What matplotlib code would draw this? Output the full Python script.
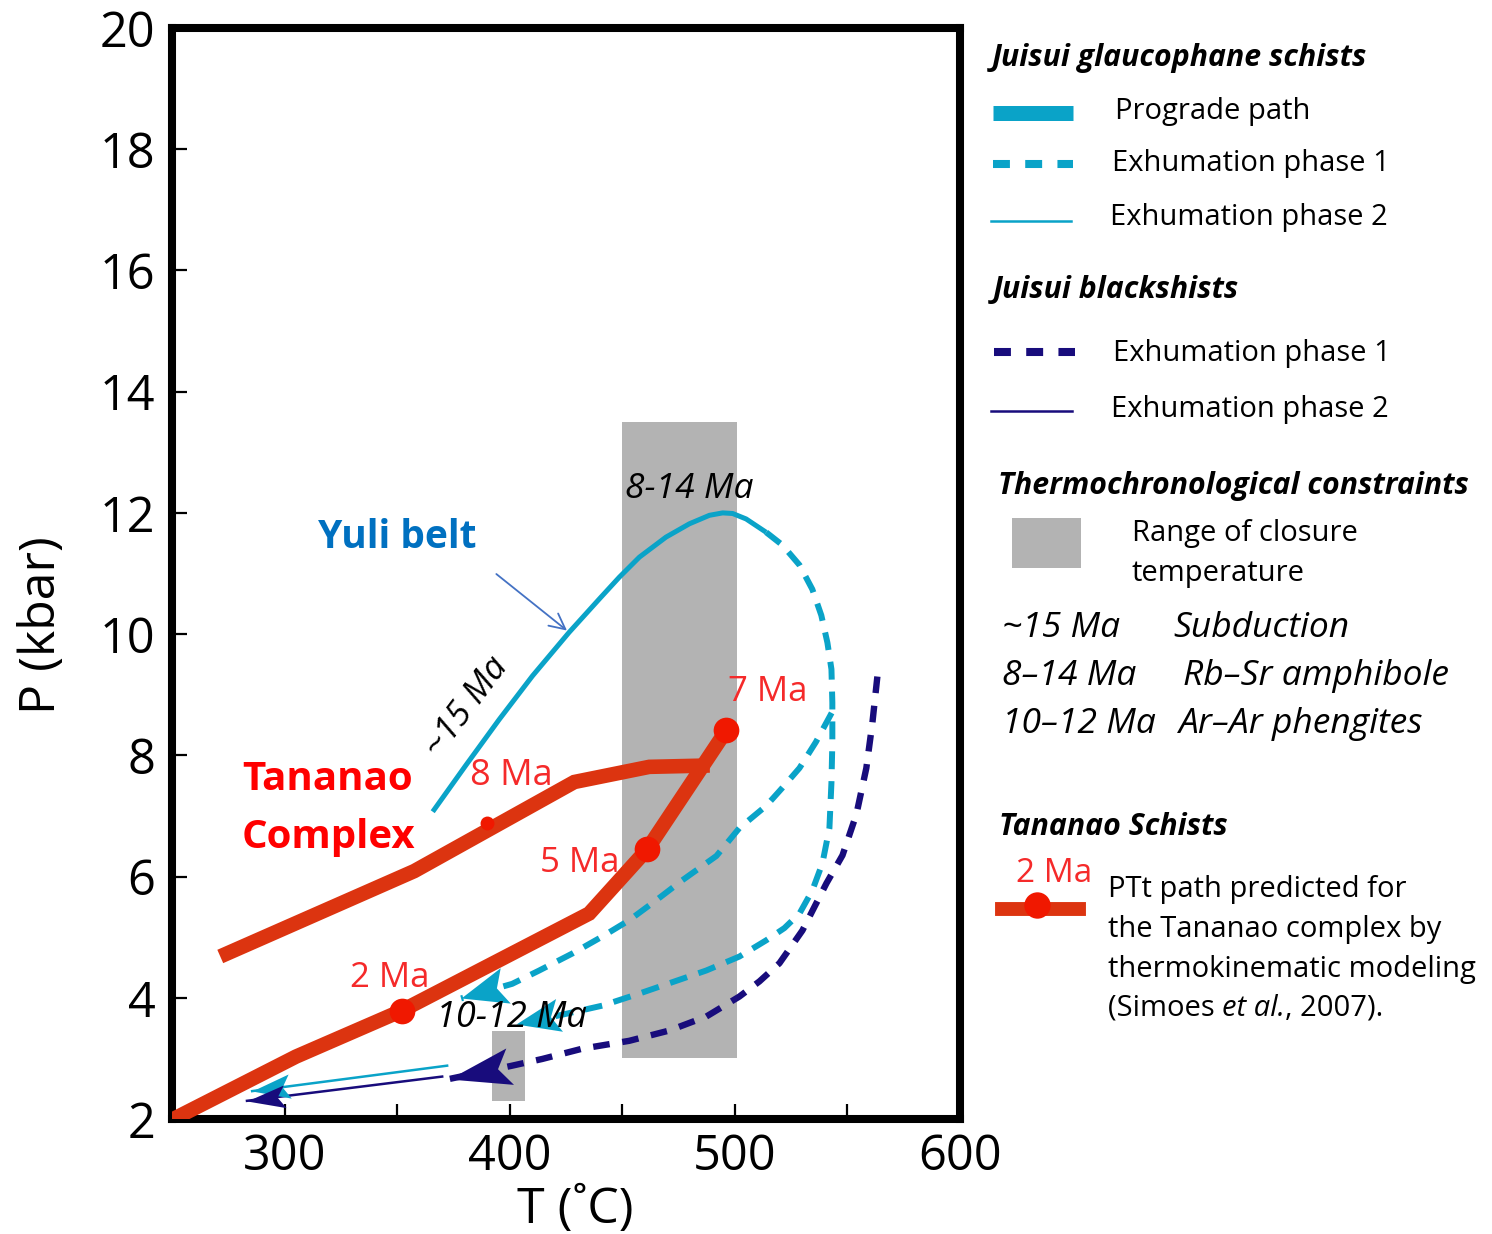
import numpy as np
import matplotlib
matplotlib.use("Agg")
import matplotlib.pyplot as plt
from matplotlib.lines import Line2D
from matplotlib.patches import Rectangle
from matplotlib.path import Path
from matplotlib.markers import MarkerStyle

plt.rcParams['font.family'] = ['Open Sans', 'DejaVu Sans']

W, H = 1492, 1234

# ---- data: T (deg C), P (kbar) ----
prograde_T = [365.8, 380.6, 395.3, 410.1, 426.4, 439.8, 448.7, 457.6, 469.4, 479.8,
              488.7, 494.6, 499.0, 505.0, 513.9]
prograde_P = [7.07, 7.84, 8.59, 9.31, 10.03, 10.58, 10.94, 11.27, 11.60, 11.82,
              11.96, 12.00, 11.99, 11.90, 11.68]

gl_exh1a_T = [513.9, 521.1, 528.7, 534.4, 538.4, 541.1, 542.9, 543.3, 543.3, 542.9,
              542.0, 538.9, 534.4, 528.7, 522.0, 514.0, 502.0, 487.3, 470.9, 457.6,
              441.1, 422.0, 402.9]
gl_exh1a_P = [11.68, 11.47, 11.14, 10.74, 10.31, 9.86, 9.42, 8.87, 8.21, 7.55,
              6.80, 6.22, 5.77, 5.39, 5.15, 4.95, 4.68, 4.45, 4.24, 4.07,
              3.87, 3.71, 3.56]

gl_exh1b_T = [543.0, 536.0, 528.7, 521.0, 514.0, 502.0, 491.8, 476.7, 465.1, 453.1,
              441.1, 427.8, 413.1, 401.1, 378.4]
gl_exh1b_P = [8.70, 8.22, 7.79, 7.46, 7.17, 6.80, 6.34, 5.94, 5.61, 5.28,
              5.01, 4.73, 4.45, 4.23, 3.99]

gl_exh2_T = [372.2, 285.6]
gl_exh2_P = [2.88, 2.46]

bs_exh1_T = [563.3, 561.1, 558.4, 554.0, 547.8, 540.7, 530.0, 519.8, 510.9, 502.0,
             487.3, 470.9, 453.1, 432.2, 414.4, 401.1, 373.1]
bs_exh1_P = [9.30, 8.54, 7.79, 7.03, 6.35, 5.89, 5.11, 4.57, 4.27, 4.02,
             3.69, 3.46, 3.29, 3.16, 2.99, 2.88, 2.66]

bs_exh2_T = [370.0, 283.3]
bs_exh2_P = [2.70, 2.30]

tan_upper_T = [274.4, 357.6, 428.7, 462.0, 485.6]
tan_upper_P = [4.73, 6.09, 7.56, 7.81, 7.83]
tan_lower_T = [248.0, 305.1, 352.2, 435.3, 461.1, 496.2]
tan_lower_P = [1.95, 3.03, 3.79, 5.39, 6.45, 8.41]

age_T = [352.2, 461.1, 496.2]
age_P = [3.79, 6.45, 8.41]
age_labels = ['2 Ma', '5 Ma', '7 Ma']
age_label_T = [346.9, 431.3, 514.4]
age_label_P = [4.32, 6.22, 9.04]
small_T, small_P = 390.0, 6.88

# closure-temperature boxes: T min, T max, P min, P max
box_T0 = [450, 392]
box_T1 = [501, 407]
box_P0 = [3.0, 2.3]
box_P1 = [13.5, 3.45]

x_ticks = [300, 350, 400, 450, 500, 550, 600]
x_ticklabels = ['300', '', '400', '', '500', '', '600']
y_ticks = list(range(2, 21, 2))

CYAN = '#0aa3c8'
NAVY = '#180c7c'
RED = '#dc3410'
DOT = '#f01800'
LRED = '#f52a2a'
GRAY = '#b3b3b3'

fig = plt.figure(figsize=(W / 100, H / 100), dpi=100)
ax = fig.add_axes([172 / W, 1 - 1119 / H, (960 - 172) / W, (1119 - 28) / H])
ax.set_xlim(250, 600)
ax.set_ylim(2, 20)

for t0, t1, p0, p1 in zip(box_T0, box_T1, box_P0, box_P1):
    ax.add_patch(Rectangle((t0, p0), t1 - t0, p1 - p0, color=GRAY, lw=0, zorder=1))

dash = (3.0, 2.0)
ax.plot(prograde_T, prograde_P, color=CYAN, lw=3.6, zorder=3, solid_capstyle='butt')
ax.plot(gl_exh1a_T, gl_exh1a_P, color=CYAN, lw=4.3, dashes=dash, zorder=3, dash_capstyle='butt')
ax.plot(gl_exh1b_T, gl_exh1b_P, color=CYAN, lw=4.3, dashes=dash, zorder=3, dash_capstyle='butt')
ax.plot(gl_exh2_T, gl_exh2_P, color=CYAN, lw=1.8, zorder=3)
ax.plot(bs_exh1_T, bs_exh1_P, color=NAVY, lw=4.6, dashes=(2.6, 2.0), zorder=3,
        dash_capstyle='butt')
ax.plot(bs_exh2_T, bs_exh2_P, color=NAVY, lw=1.8, zorder=3)


def stealth(w):
    # swept-back arrow head, tip at the origin pointing along +x
    return Path([(0, 0), (-1, w), (-0.8, 0), (-1, -w), (0, 0)],
                [Path.MOVETO, Path.LINETO, Path.LINETO, Path.LINETO, Path.CLOSEPOLY])


def head(x, y, color, length_px, w):
    p0 = ax.transData.transform((x[-2], y[-2]))
    p1 = ax.transData.transform((x[-1], y[-1]))
    ang = np.degrees(np.arctan2(p1[1] - p0[1], p1[0] - p0[0]))
    m = MarkerStyle(stealth(w)).rotated(deg=ang)
    ax.plot(x[-1], y[-1], marker=m, ms=2 * length_px / 1.389, color=color,
            mew=0, ls='none', zorder=4)


head(gl_exh1a_T, gl_exh1a_P, CYAN, 44, 0.38)
head(gl_exh1b_T, gl_exh1b_P, CYAN, 46, 0.40)
head(gl_exh2_T, gl_exh2_P, CYAN, 38, 0.32)
head(bs_exh1_T, bs_exh1_P, NAVY, 62, 0.30)
head(bs_exh2_T, bs_exh2_P, NAVY, 38, 0.30)

ax.plot(tan_upper_T, tan_upper_P, color=RED, lw=10.5, zorder=5, solid_joinstyle='miter')
ax.plot(tan_lower_T, tan_lower_P, color=RED, lw=10.5, zorder=5, solid_joinstyle='miter')
ax.plot(age_T, age_P, 'o', color=DOT, ms=18.5, mew=0, zorder=6)
ax.plot(small_T, small_P, 'o', color=DOT, ms=10, mew=0, zorder=6)
for lab, t, p in zip(age_labels, age_label_T, age_label_P):
    ax.text(t, p, lab, color=LRED, fontsize=25, ha='center', va='center', zorder=7)
ax.text(400.7, 7.66, '8 Ma', color=LRED, fontsize=26, ha='center', va='center', zorder=7)

ax.text(479.8, 12.40, '8-14 Ma', style='italic', fontsize=25.5, ha='center', va='center', zorder=7)
ax.text(400.7, 3.67, '10-12 Ma', style='italic', fontsize=26, ha='center', va='center', zorder=7)
ax.text(381.1, 8.79, '~15 Ma', style='italic', fontsize=25, ha='center', va='center',
        rotation=53, rotation_mode='anchor', zorder=7)
ax.text(350.0, 11.6, 'Yuli belt', color='#0070c0', fontsize=28, fontweight='bold',
        ha='center', va='center', zorder=7)
ax.text(281.1, 7.60, 'Tananao', color='#ff0000', fontsize=29, fontweight='bold',
        ha='left', va='center', zorder=7)
ax.text(281.1, 6.64, 'Complex', color='#ff0000', fontsize=29, fontweight='bold',
        ha='left', va='center', zorder=7)
ax.annotate('', xy=(426.4, 10.03), xytext=(393.1, 11.02),
            arrowprops=dict(arrowstyle='->', color='#4472c4', lw=1.3, mutation_scale=28),
            zorder=7)

ax.set_xticks(x_ticks)
ax.set_xticklabels(x_ticklabels)
ax.set_yticks(y_ticks)
ax.tick_params(direction='in', length=11, width=1.6, labelsize=35, top=False, right=False)
ax.tick_params(axis='x', pad=10)
ax.tick_params(axis='y', pad=12)
for s in ax.spines.values():
    s.set_linewidth(5.8)

fig.text(575 / W, 1 - 1210 / H, 'T (˚C)', fontsize=36, ha='center', va='center')
fig.text(42 / W, 1 - 625 / H, 'P (kbar)', fontsize=36, ha='center', va='center', rotation=90)


# ---- legend drawn in figure pixels ----
def F(x, y):
    return x / W, 1 - y / H


def sample(x0, x1, y, **kw):
    (a, b), (c, d) = F(x0, y), F(x1, y)
    fig.add_artist(Line2D([a, c], [b, d], transform=fig.transFigure, **kw))


headings = ['Juisui glaucophane schists', 'Juisui blackshists',
            'Thermochronological constraints', 'Tananao Schists']
heading_y = [58, 290, 486, 827]
heading_x = [992, 993, 998, 999]
for t, x, y in zip(headings, heading_x, heading_y):
    fig.text(*F(x, y), t, fontsize=21.8, fontweight='bold', style='italic', va='center')

sample(993, 1073, 113, color=CYAN, lw=10.8, solid_capstyle='butt')
sample(993, 1073, 164, color=CYAN, lw=5.8, dashes=(2.1, 1.9), dash_capstyle='butt')
sample(991, 1071, 221, color=CYAN, lw=1.8)
sample(994, 1075, 352, color=NAVY, lw=5.8, dashes=(2.1, 1.9), dash_capstyle='butt')
sample(991, 1072, 411, color=NAVY, lw=1.8)

legend_labels = ['Prograde path', 'Exhumation phase 1', 'Exhumation phase 2',
                 'Exhumation phase 1', 'Exhumation phase 2']
legend_x = [1115, 1112, 1110, 1113, 1111]
legend_y = [112, 164, 218, 353, 410]
for t, x, y in zip(legend_labels, legend_x, legend_y):
    fig.text(*F(x, y), t, fontsize=21, va='center')

fig.add_artist(Rectangle(F(1012, 568), 69 / W, 50 / H, transform=fig.transFigure,
                         color=GRAY, lw=0))
fig.text(*F(1132, 534), 'Range of closure', fontsize=21, va='center')
fig.text(*F(1132, 573), 'temperature', fontsize=21, va='center')

ages = ['~15 Ma', '8–14 Ma', '10–12 Ma']
methods = ['Subduction', 'Rb–Sr amphibole', 'Ar–Ar phengites']
method_x = [1173, 1183, 1179]
rows_y = [628, 676, 724]
for a, m, mx, y in zip(ages, methods, method_x, rows_y):
    fig.text(*F(1002, y), a, fontsize=25.5, style='italic', va='center')
    fig.text(*F(mx, y), m, fontsize=25.5, style='italic', va='center')

sample(1002, 1079, 909, color=RED, lw=10)
fig.add_artist(Line2D([F(1037, 905)[0]], [F(1037, 905)[1]], marker='o', ms=19,
                      color=DOT, mew=0, transform=fig.transFigure))
fig.text(*F(1054, 873), '2 Ma', color=LRED, fontsize=24, ha='center', va='center')

desc = ['PTt path predicted for', 'the Tananao complex by', 'thermokinematic modeling']
desc_y = [890, 930, 969]
for t, y in zip(desc, desc_y):
    fig.text(*F(1108, y), t, fontsize=21, va='center')
t1 = fig.text(*F(1108, 1008), '(Simoes ', fontsize=21, va='center')
t2 = ax.annotate('et al.', xy=(1, 0), xycoords=t1, fontsize=21, style='italic',
                 va='bottom', ha='left', annotation_clip=False)
ax.annotate(', 2007).', xy=(1, 0), xycoords=t2, fontsize=21, va='bottom', ha='left',
            annotation_clip=False)

fig.savefig('out.png', dpi=100)
